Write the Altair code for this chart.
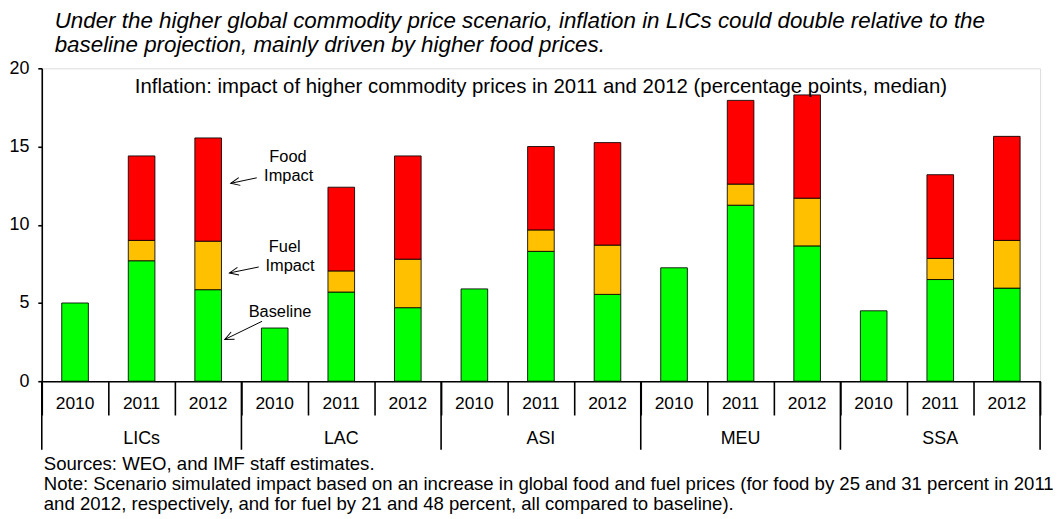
import altair as alt
import pandas as pd

# ---------------- data ----------------
regions = ["LICs", "LAC", "ASI", "MEU", "SSA"]
years = ["2010", "2011", "2012"]
baseline = [5.0, 7.7, 5.85, 3.4, 5.7, 4.7, 5.9, 8.3, 5.55, 7.25, 11.25, 8.65, 4.5, 6.5, 5.95]
fuel_imp = [0.0, 1.3, 3.1, 0.0, 1.35, 3.1, 0.0, 1.37, 3.15, 0.0, 1.35, 3.05, 0.0, 1.35, 3.05]
food_imp = [0.0, 5.4, 6.6, 0.0, 5.35, 6.6, 0.0, 5.33, 6.55, 0.0, 5.35, 6.6, 0.0, 5.35, 6.65]

components = ["Baseline", "Fuel", "Food"]
comp_colors = ["#00FF00", "#FFC000", "#FF0000"]

title_lines = [
    "Under the higher global commodity price scenario, inflation in LICs could double relative to the",
    "baseline projection, mainly driven by higher food prices.",
]
inner_title = "Inflation: impact of higher commodity prices in 2011 and 2012 (percentage points, median)"
foot_lines = [
    "Sources: WEO, and IMF staff estimates.",
    "Note: Scenario simulated impact based on an increase in global food and fuel prices (for food by 25 and 31 percent in 2011",
    "and 2012, respectively, and for fuel by 21 and 48 percent, all compared to baseline).",
]

# annotation labels (data coordinates)
ann_text = ["Food", "Impact", "Fuel", "Impact", "Baseline"]
ann_x = [3.70, 3.71, 3.65, 3.73, 3.58]
ann_y = [14.35, 13.14, 8.55, 7.37, 4.43]
# arrows: tail -> tip (data coordinates)
arr_x_tail = [3.23, 3.26, 3.31]
arr_y_tail = [13.0, 7.30, 3.83]
arr_x_tip = [2.84, 2.82, 2.75]
arr_y_tip = [12.65, 6.92, 2.67]
arr_angle = [348.3, 348.6, 334.3]

# ---------------- tables ----------------
rows = []
for g, reg in enumerate(regions):
    for k, yr in enumerate(years):
        i = g * 3 + k
        vals = [baseline[i], fuel_imp[i], food_imp[i]]
        lo = 0.0
        for c, v in enumerate(vals):
            if v > 0:
                rows.append({"x0": i + 0.3, "x1": i + 0.7, "lo": lo, "hi": lo + v,
                             "component": components[c], "region": reg, "year": yr})
            lo += v
bars_df = pd.DataFrame(rows)

year_df = pd.DataFrame({"xc": [i + 0.5 for i in range(15)],
                        "label": [years[i % 3] for i in range(15)]})
group_df = pd.DataFrame({"xc": [g * 3 + 1.5 for g in range(5)], "label": regions})
sep_df = pd.DataFrame({"xs": [g * 3 for g in range(6)]})
ann_df = pd.DataFrame({"x": ann_x, "y": ann_y, "t": ann_text})
arr_df = pd.DataFrame({"xa": arr_x_tail, "ya": arr_y_tail, "xb": arr_x_tip,
                       "yb": arr_y_tip, "ang": arr_angle})
inner_df = pd.DataFrame({"x": [7.5], "y": [18.8], "t": [inner_title]})
title_df = pd.DataFrame({"t": title_lines, "py": [-47.5, -23]})
foot_df = pd.DataFrame({"t": foot_lines, "py": [398, 419, 439]})

FONT = "Liberation Sans"
xs = alt.Scale(domain=[0, 15], nice=False, zero=False)
ys = alt.Scale(domain=[0, 20], nice=False, zero=True)

bars = alt.Chart(bars_df).mark_bar(stroke="black", strokeWidth=1, strokeOpacity=0.85).encode(
    x=alt.X("x0:Q", scale=xs,
            axis=alt.Axis(values=list(range(16)), labels=False, title=None, grid=False,
                          tickSize=34, tickColor="black", tickWidth=1.6,
                          domainColor="black", domainWidth=1.6)),
    x2="x1:Q",
    y=alt.Y("lo:Q", scale=ys,
            axis=alt.Axis(values=[0, 5, 10, 15, 20], title=None, grid=False,
                          tickSize=4, tickColor="black", tickWidth=1.6,
                          domainColor="black", domainWidth=1.6,
                          labelFontSize=18, labelColor="black", labelFont=FONT,
                          labelPadding=9)),
    y2="hi:Q",
    color=alt.Color("component:N",
                    scale=alt.Scale(domain=components, range=comp_colors), legend=None),
)

year_lbl = alt.Chart(year_df).mark_text(fontSize=17.5, font=FONT, color="black",
                                        baseline="middle").encode(
    x=alt.X("xc:Q", scale=xs), y=alt.value(338), text="label:N")

group_lbl = alt.Chart(group_df).mark_text(fontSize=18, font=FONT, color="black",
                                          baseline="middle").encode(
    x=alt.X("xc:Q", scale=xs), y=alt.value(373), text="label:N")

group_sep = alt.Chart(sep_df).mark_rule(color="black", strokeWidth=1.6).encode(
    x=alt.X("xs:Q", scale=xs), y=alt.value(315), y2=alt.value(384))

ann = alt.Chart(ann_df).mark_text(fontSize=16.5, font=FONT, color="black",
                                  baseline="middle").encode(
    x=alt.X("x:Q", scale=xs), y=alt.Y("y:Q", scale=ys), text="t:N")

arr_line = alt.Chart(arr_df).mark_rule(color="black", strokeWidth=1).encode(
    x=alt.X("xa:Q", scale=xs), y=alt.Y("ya:Q", scale=ys), x2="xb:Q", y2="yb:Q")

arr_head = alt.Chart(arr_df).mark_point(shape="M1.8,-0.8L0,0L1.8,0.8", filled=False,
                                        color="black", strokeWidth=1, size=100,
                                        opacity=1).encode(
    x=alt.X("xb:Q", scale=xs), y=alt.Y("yb:Q", scale=ys),
    angle=alt.Angle("ang:Q", scale=None))

inner = alt.Chart(inner_df).mark_text(fontSize=20.5, font=FONT, color="black",
                                      baseline="middle").encode(
    x=alt.X("x:Q", scale=xs), y=alt.Y("y:Q", scale=ys), text="t:N")

title = alt.Chart(title_df).mark_text(fontSize=22.5, font=FONT, fontStyle="italic",
                                      color="black", align="left",
                                      baseline="middle").encode(
    x=alt.value(13), y=alt.Y("py:Q", scale=None), text="t:N")

foot = alt.Chart(foot_df).mark_text(fontSize=18.7, font=FONT, color="black",
                                    align="left", baseline="middle").encode(
    x=alt.value(2), y=alt.Y("py:Q", scale=None), text="t:N")

chart = alt.layer(bars, group_sep, year_lbl, group_lbl, arr_line, arr_head, ann,
                  inner, title, foot).properties(
    width=1005, height=315,
    autosize=alt.AutoSizeParams(type="none"),
    padding={"left": 34, "top": 59, "right": 13, "bottom": 137},
).configure_view(stroke=None).configure(font=FONT)

chart.save("out.html", embed_options={"renderer": "svg", "actions": False})
